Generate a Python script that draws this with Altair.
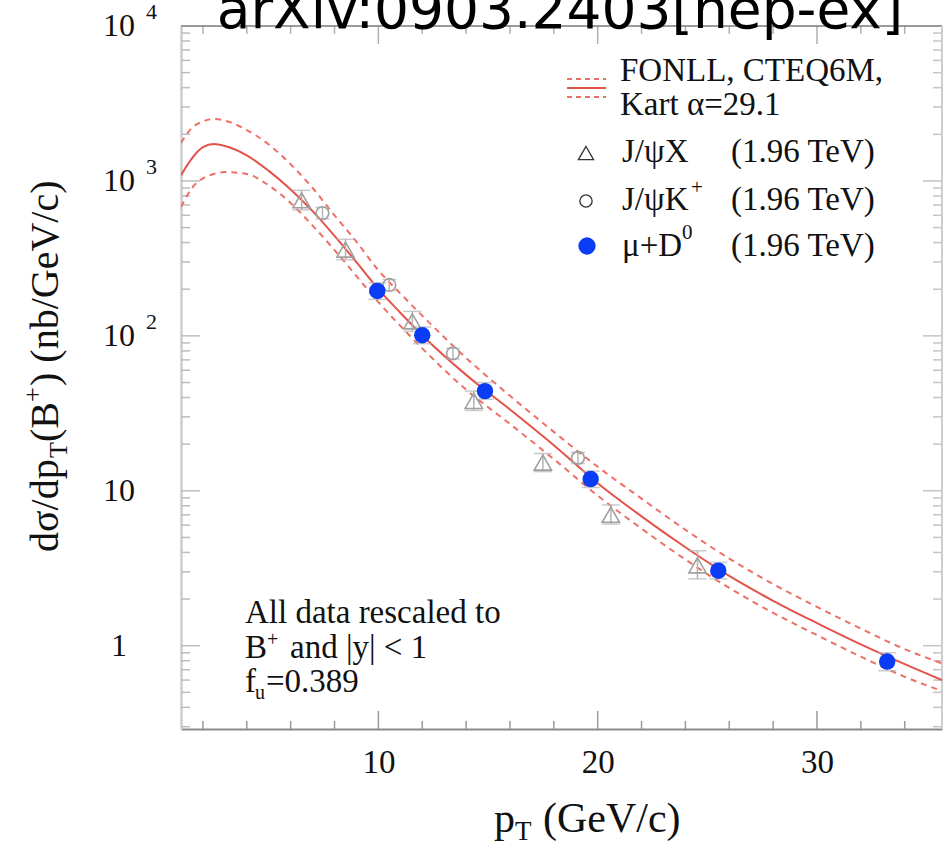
import altair as alt
import pandas as pd

# ---------------- FONLL prediction: central curve and uncertainty band ----------------
fonll_pt = [1, 1.5, 2, 2.5, 3, 4, 5, 6, 7, 8, 9, 10, 11, 12, 14, 16, 18, 20,
            22, 24, 26, 28, 30, 32, 34, 35.7]
fonll_central = [1090, 1400, 1650, 1730, 1680, 1462, 1161, 881, 638, 442, 299, 200,
                 141, 101, 56, 33.5, 19.7, 11.2, 6.84, 4.32, 2.82, 1.95, 1.40, 1.02, 0.76, 0.60]
fonll_upper = [1760, 2200, 2420, 2510, 2450, 2130, 1720, 1280, 900, 600, 405, 265,
               188, 135, 72, 41, 24, 14.3, 8.9, 5.6, 3.65, 2.5, 1.78, 1.29, 0.95, 0.77]
fonll_lower = [680, 900, 1040, 1110, 1140, 1110, 935, 720, 515, 358, 243, 165,
               116, 83, 45, 27, 16, 9.3, 5.7, 3.6, 2.36, 1.63, 1.17, 0.85, 0.63, 0.51]

# ---------------- measurements ----------------
# J/psi X (open triangles)
jpsix_pt = [6.5, 8.5, 11.55, 14.35, 17.5, 20.6, 24.55]
jpsix_val = [750, 360, 124, 38, 15.2, 7.0, 3.3]
jpsix_lo = [650, 310, 107, 33, 13.3, 6.1, 2.7]
jpsix_hi = [870, 420, 144, 44, 17.4, 8.1, 4.1]

# J/psi K+ (open circles)
jpsik_pt = [7.45, 10.5, 13.4, 19.1]
jpsik_val = [620, 213, 77, 16.3]
jpsik_lo = [570, 196, 71, 15.0]
jpsik_hi = [675, 231, 83, 17.7]

# mu + D0 (filled blue circles)
mud_pt = [9.95, 12.0, 14.86, 19.68, 25.5, 33.2]
mud_val = [195, 101, 44, 11.9, 3.05, 0.79]
mud_lo = [172, 89, 39, 10.5, 2.7, 0.69]
mud_hi = [220, 114, 50, 13.4, 3.45, 0.90]

# axis tick positions and labels
x_major = [10, 20, 30]
x_minor = [2, 4, 6, 8, 12, 14, 16, 18, 22, 24, 26, 28, 32, 34]
y_major = [1, 10, 100, 1000, 10000]
y_base = ["1", "10", "10", "10", "10"]
y_sup = ["", "", "2", "3", "4"]
y_minor = [m * d for d in (0.1, 1, 10, 100, 1000) for m in range(2, 10) if m * d >= 0.29]

# ---------------- layout ----------------
PL, PT, PR, PB = 181, 26, 1, 117
W, H = 943 - PL - PR, 846 - PT - PB
SERIF = "Liberation Serif"
RED = "#e4524a"
RED_D = "#ee6f66"
GREY = "#a0a0a0"
BLUE = "#0a3cf5"

xs = alt.Scale(domain=[1, 35.7], nice=False, zero=False)
ys = alt.Scale(type="log", domain=[0.29, 10000], nice=False)
xaxis = alt.Axis(values=x_major, ticks=False, grid=False, title=None,
                 labelFont=SERIF, labelFontSize=33, labelColor="#111",
                 labelPadding=17, domainColor="#8a8a8a", domainWidth=2, labelFlush=False)
yaxis = alt.Axis(labels=False, ticks=False, grid=False, title=None,
                 domainColor="#cdcdcd", domainWidth=2.5)


def X(field="pt"):
    return alt.X(f"{field}:Q", scale=xs, axis=xaxis)


def Y(field="val"):
    return alt.Y(f"{field}:Q", scale=ys, axis=yaxis)


curves = pd.DataFrame({
    "pt": fonll_pt * 3,
    "val": fonll_central + fonll_upper + fonll_lower,
    "kind": ["central"] * len(fonll_pt) + ["upper"] * len(fonll_pt) + ["lower"] * len(fonll_pt),
})
jx = pd.DataFrame({"pt": jpsix_pt, "val": jpsix_val, "lo": jpsix_lo, "hi": jpsix_hi})
jk = pd.DataFrame({"pt": jpsik_pt, "val": jpsik_val, "lo": jpsik_lo, "hi": jpsik_hi})
md = pd.DataFrame({"pt": mud_pt, "val": mud_val, "lo": mud_lo, "hi": mud_hi})

layers = []

# axis ticks drawn inward, on all four sides
xt_major = pd.DataFrame({"pt": x_major})
xt_minor = pd.DataFrame({"pt": x_minor})
yt_major = pd.DataFrame({"val": y_major[:-1]})
yt_minor = pd.DataFrame({"val": y_minor})
for df, ln in ((xt_major, 18), (xt_minor, 8)):
    layers.append(alt.Chart(df).mark_rule(color="#9a9a9a", strokeWidth=1.5).encode(
        x=X(), y=alt.value(H), y2=alt.value(H - ln)))
    layers.append(alt.Chart(df).mark_rule(color="#b0b0b0", strokeWidth=1.5).encode(
        x=X(), y=alt.value(0), y2=alt.value(ln)))
for df, ln in ((yt_major, 19), (yt_minor, 9)):
    layers.append(alt.Chart(df).mark_rule(color="#bdbdbd", strokeWidth=1.5).encode(
        y=Y(), x=alt.value(0), x2=alt.value(ln)))
    layers.append(alt.Chart(df).mark_rule(color="#c4c4c4", strokeWidth=1.5).encode(
        y=Y(), x=alt.value(W), x2=alt.value(W - ln)))

# frame: top and right edges
edge = pd.DataFrame({"k": [0]})
layers.append(alt.Chart(edge).mark_rule(color="#7a7a7a", strokeWidth=1.5).encode(
    x=alt.value(0), x2=alt.value(W), y=alt.value(0)))
layers.append(alt.Chart(edge).mark_rule(color="#cdcdcd", strokeWidth=2).encode(
    x=alt.value(W), y=alt.value(0), y2=alt.value(H)))

# FONLL curves
layers.append(alt.Chart(curves).transform_filter("datum.kind != 'central'").mark_line(
    color=RED_D, strokeWidth=2, strokeDash=[6, 5], interpolate="monotone", clip=True
).encode(x=X(), y=Y(), detail="kind:N"))
layers.append(alt.Chart(curves).transform_filter("datum.kind == 'central'").mark_line(
    color=RED, strokeWidth=2, interpolate="monotone", clip=True
).encode(x=X(), y=Y()))

# error bars with caps
for df, cap in ((jx, 18), (jk, 14), (md, 18)):
    layers.append(alt.Chart(df).mark_rule(color="#b4b4b4", strokeWidth=1.5).encode(
        x=X(), y=Y("lo"), y2="hi:Q"))
    for f in ("lo", "hi"):
        layers.append(alt.Chart(df).mark_tick(color="#b4b4b4", thickness=1.5, size=cap,
                                              orient="horizontal").encode(x=X(), y=Y(f)))

# markers
layers.append(alt.Chart(jx).mark_point(shape="triangle-up", filled=False, color=GREY,
                                       size=300, strokeWidth=1.6, opacity=1).encode(x=X(), y=Y()))
layers.append(alt.Chart(jk).mark_point(shape="circle", filled=False, color=GREY,
                                       size=160, strokeWidth=1.6, opacity=1).encode(x=X(), y=Y()))
layers.append(alt.Chart(md).mark_circle(color=BLUE, size=270, opacity=1).encode(x=X(), y=Y()))


# ---------------- text helpers (positions in page pixels) ----------------
def txt(s, x, y, size, align="left", baseline="middle", font=SERIF, angle=None, color="#111"):
    kw = dict(text=s, align=align, baseline=baseline, font=font, fontSize=size, color=color)
    if angle is not None:
        kw["angle"] = angle
    return alt.Chart(pd.DataFrame({"k": [0]})).mark_text(**kw).encode(
        x=alt.value(x - PL), y=alt.value(y - PT))


def sym(x, y, **kw):
    return alt.Chart(pd.DataFrame({"k": [0]})).mark_point(opacity=1, **kw).encode(
        x=alt.value(x - PL), y=alt.value(y - PT))


def hline(x1, x2, y, **kw):
    return alt.Chart(pd.DataFrame({"k": [0]})).mark_rule(**kw).encode(
        x=alt.value(x1 - PL), x2=alt.value(x2 - PL), y=alt.value(y - PT))


# y tick labels
ylab = pd.DataFrame({"val": y_major, "base": y_base, "sup": y_sup})
layers.append(alt.Chart(ylab).mark_text(font=SERIF, fontSize=32, align="center",
                                        baseline="middle", color="#111").encode(
    y=Y(), x=alt.value(119 - PL), text="base:N"))
layers.append(alt.Chart(ylab).mark_text(font=SERIF, fontSize=22, align="left",
                                        baseline="middle", color="#111", dy=-14).encode(
    y=Y(), x=alt.value(146 - PL), text="sup:N"))

# header
layers.append(txt("arXiv:0903.2403[hep-ex]", 560, 28, 55, align="center",
                  baseline="alphabetic", font="DejaVu Sans", color="#000"))

# legend
LF = 33
layers.append(hline(567, 606, 79, color=RED_D, strokeWidth=2, strokeDash=[5, 4]))
layers.append(hline(567, 606, 88, color=RED, strokeWidth=2))
layers.append(hline(567, 606, 97, color=RED_D, strokeWidth=2, strokeDash=[5, 4]))
layers.append(txt("FONLL, CTEQ6M,", 620, 71, LF))
layers.append(txt("Kart α=29.1", 620, 105, LF))
layers.append(sym(586, 153, shape="triangle-up", filled=False, color="#333", size=230, strokeWidth=1.3))
layers.append(txt("J/ψX", 622, 152, LF))
layers.append(sym(586, 201, shape="circle", filled=False, color="#333", size=150, strokeWidth=1.3))
layers.append(txt("J/ψK", 622, 200, LF))
layers.append(txt("+", 691, 188, 21))
layers.append(sym(587, 246, shape="circle", filled=True, color=BLUE, size=300))
layers.append(txt("μ+D", 622, 246, LF))
layers.append(txt("0", 682, 233, 21))
for yy in (152, 200, 246):
    layers.append(txt("(1.96 TeV)", 731, yy, LF))

# note
NF = 33
layers.append(txt("All data rescaled to", 245, 613, NF))
layers.append(txt("B", 245, 648, NF))
layers.append(txt("+", 267, 640, 20))
layers.append(txt("and |y| < 1", 290, 648, NF))
layers.append(txt("f", 245, 682, NF))
layers.append(txt("u", 255, 693, 20))
layers.append(txt("=0.389", 266, 682, NF))

# x title: p_T (GeV/c)
layers.append(txt("p", 494, 832, 42, baseline="alphabetic"))
layers.append(txt("T", 515, 840, 27, baseline="alphabetic"))
layers.append(txt("(GeV/c)", 543, 832, 42, baseline="alphabetic"))

# y title: dσ/dp_T(B^+) (nb/GeV/c), read bottom to top
YB = 58
layers.append(txt("dσ/dp", YB, 552, 40, baseline="alphabetic", angle=270))
layers.append(txt("T", YB + 9, 458, 26, baseline="alphabetic", angle=270))
layers.append(txt("(B", YB, 442, 40, baseline="alphabetic", angle=270))
layers.append(txt("+", YB - 17, 402, 26, baseline="alphabetic", angle=270))
layers.append(txt(") (nb/GeV/c)", YB, 386, 40, baseline="alphabetic", angle=270))

chart = alt.layer(*layers).properties(
    width=W, height=H,
    autosize=alt.AutoSizeParams(type="none"),
    padding={"left": PL, "top": PT, "right": PR, "bottom": PB},
    background="white",
).configure_view(stroke=None)

chart.save("out.html", embed_options={"renderer": "svg", "actions": False})
